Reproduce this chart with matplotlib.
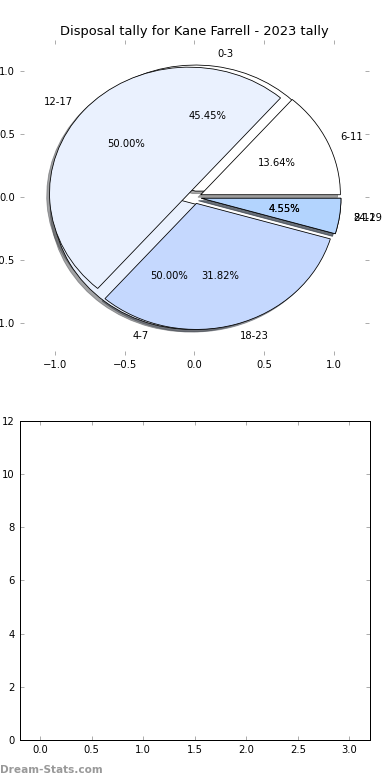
import matplotlib
matplotlib.use("Agg")
import matplotlib.pyplot as plt

# disposal tallies, two binnings drawn on the same pie axes
bins_4 = ['0-3', '4-7', '8-11']
games_4 = [10, 11, 1]
bins_6 = ['6-11', '12-17', '18-23', '24-29']
games_6 = [3, 11, 7, 1]

slice_colours = ['#ffffff', '#eaf1fe', '#c5d8fe', '#b3d4fe']

player = "Kane Farrell"
season = "2023"

fig = plt.figure(figsize=(390 / 72, 780 / 72), dpi=72)
fig.patch.set_facecolor('white')

# --- pie (top) ---
ax = fig.add_axes([0.051, 0.545, 0.895, 0.404])
for labels, games in [(bins_4, games_4), (bins_6, games_6)]:
    ax.pie(games, labels=labels, colors=slice_colours[:len(games)],
           explode=[0.05] * len(games), autopct='%1.2f%%', shadow=True,
           startangle=0, textprops={'fontsize': 10},
           wedgeprops={'edgecolor': 'black', 'linewidth': 0.8})

ax.set_aspect('auto')
ax.set_frame_on(False)
ax.set_xlim(-1.25, 1.25)
ax.set_ylim(-1.25, 1.25)
ax.set_xticks([-1.0, -0.5, 0.0, 0.5, 1.0])
ax.set_yticks([-1.0, -0.5, 0.0, 0.5, 1.0])
ax.tick_params(direction='in', top=True, right=True, length=4,
               color='#999999', labelsize=10, pad=5)
ax.set_title(f"Disposal tally for {player} - {season} tally", fontsize=13, pad=5)

# --- empty companion axes (bottom) ---
ax2 = fig.add_axes([0.05, 0.0513, 0.899, 0.409])
ax2.set_xlim(-0.2, 3.2)
ax2.set_ylim(0, 12)
ax2.set_xticks([0.0, 0.5, 1.0, 1.5, 2.0, 2.5, 3.0])
ax2.set_yticks([0, 2, 4, 6, 8, 10, 12])
ax2.tick_params(direction='in', top=True, right=True, length=4,
                color='#999999', labelsize=10, pad=5)
for sp in ax2.spines.values():
    sp.set_color('black')
    sp.set_linewidth(1)

fig.text(0.0, 0.0128, "Dream-Stats.com", fontsize=10.5, color='#999999',
         fontweight='bold', ha='left', va='center')

fig.savefig('out.png', dpi=72, facecolor='white')
